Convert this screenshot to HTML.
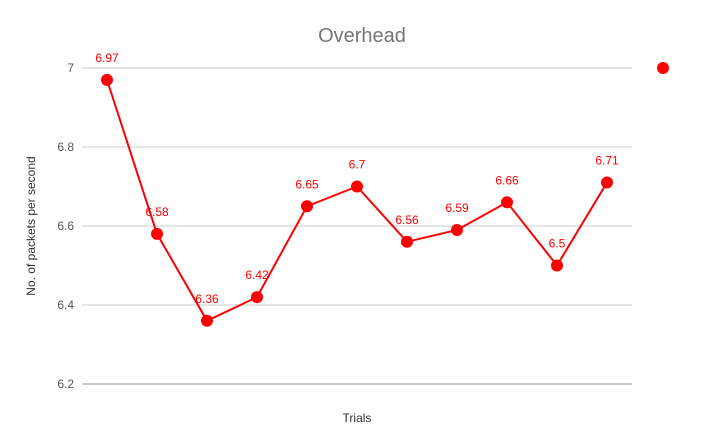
<!DOCTYPE html>
<html><head><meta charset="utf-8"><style>
body{margin:0;background:#fff;}
svg{display:block;font-family:"Liberation Sans",sans-serif;}
</style></head><body>
<svg id="chart" width="723" height="447">
<text x="362" y="42" text-anchor="middle" font-size="20" fill="#757575">Overhead</text>
<text transform="translate(35,226) rotate(-90)" text-anchor="middle" font-size="12" fill="#333">No. of packets per second</text>
<text x="357" y="422" text-anchor="middle" font-size="12" fill="#333">Trials</text>
<g id="grid"></g><g id="series"></g>
<circle cx="663" cy="68" r="6" fill="#ff0000"/>
</svg>
<script>
const categories=[1,2,3,4,5,6,7,8,9,10,11];
const values=[6.97,6.58,6.36,6.42,6.65,6.7,6.56,6.59,6.66,6.5,6.71];
const valueLabels=["6.97","6.58","6.36","6.42","6.65","6.7","6.56","6.59","6.66","6.5","6.71"];
const yTicks=[6.2,6.4,6.6,6.8,7];
const yTickLabels=["6.2","6.4","6.6","6.8","7"];
const NS="http://www.w3.org/2000/svg";
const x0=82,x1=632,yTop=68,yBot=384,yMin=6.2,yMax=7;
function yScale(v){return yBot-(v-yMin)/(yMax-yMin)*(yBot-yTop);}
function xScale(i){return x0+(x1-x0)/categories.length*(i+0.5);}
const grid=document.getElementById('grid'),ser=document.getElementById('series');
yTicks.forEach((t,i)=>{
 const l=document.createElementNS(NS,'line');
 l.setAttribute('x1',x0);l.setAttribute('x2',x1);l.setAttribute('y1',yScale(t));l.setAttribute('y2',yScale(t));
 l.setAttribute('stroke',i==0?'#999':'#ccc');l.setAttribute('stroke-width','1');
 
 
 grid.appendChild(l);
 const tx=document.createElementNS(NS,'text');
 tx.setAttribute('x',74);tx.setAttribute('y',yScale(t)+4);tx.setAttribute('text-anchor','end');
 tx.setAttribute('font-size','12');tx.setAttribute('fill','#555');tx.textContent=yTickLabels[i];
 
 
 grid.appendChild(tx);
});
const pl=document.createElementNS(NS,'polyline');
pl.setAttribute('points',values.map((v,i)=>xScale(i)+','+yScale(v)).join(' '));
pl.setAttribute('fill','none');pl.setAttribute('stroke','#ff0000');pl.setAttribute('stroke-width','2');


ser.appendChild(pl);
values.forEach((v,i)=>{
 const c=document.createElementNS(NS,'circle');
 c.setAttribute('cx',xScale(i));c.setAttribute('cy',yScale(v));c.setAttribute('r',6);c.setAttribute('fill','#ff0000');
 
 
 ser.appendChild(c);
 const t=document.createElementNS(NS,'text');
 t.setAttribute('x',xScale(i));t.setAttribute('y',yScale(v)-18);t.setAttribute('text-anchor','middle');
 t.setAttribute('font-size','12');t.setAttribute('fill','#ff0000');t.textContent=valueLabels[i];
 
 
 ser.appendChild(t);
});
</script>
</body></html>
